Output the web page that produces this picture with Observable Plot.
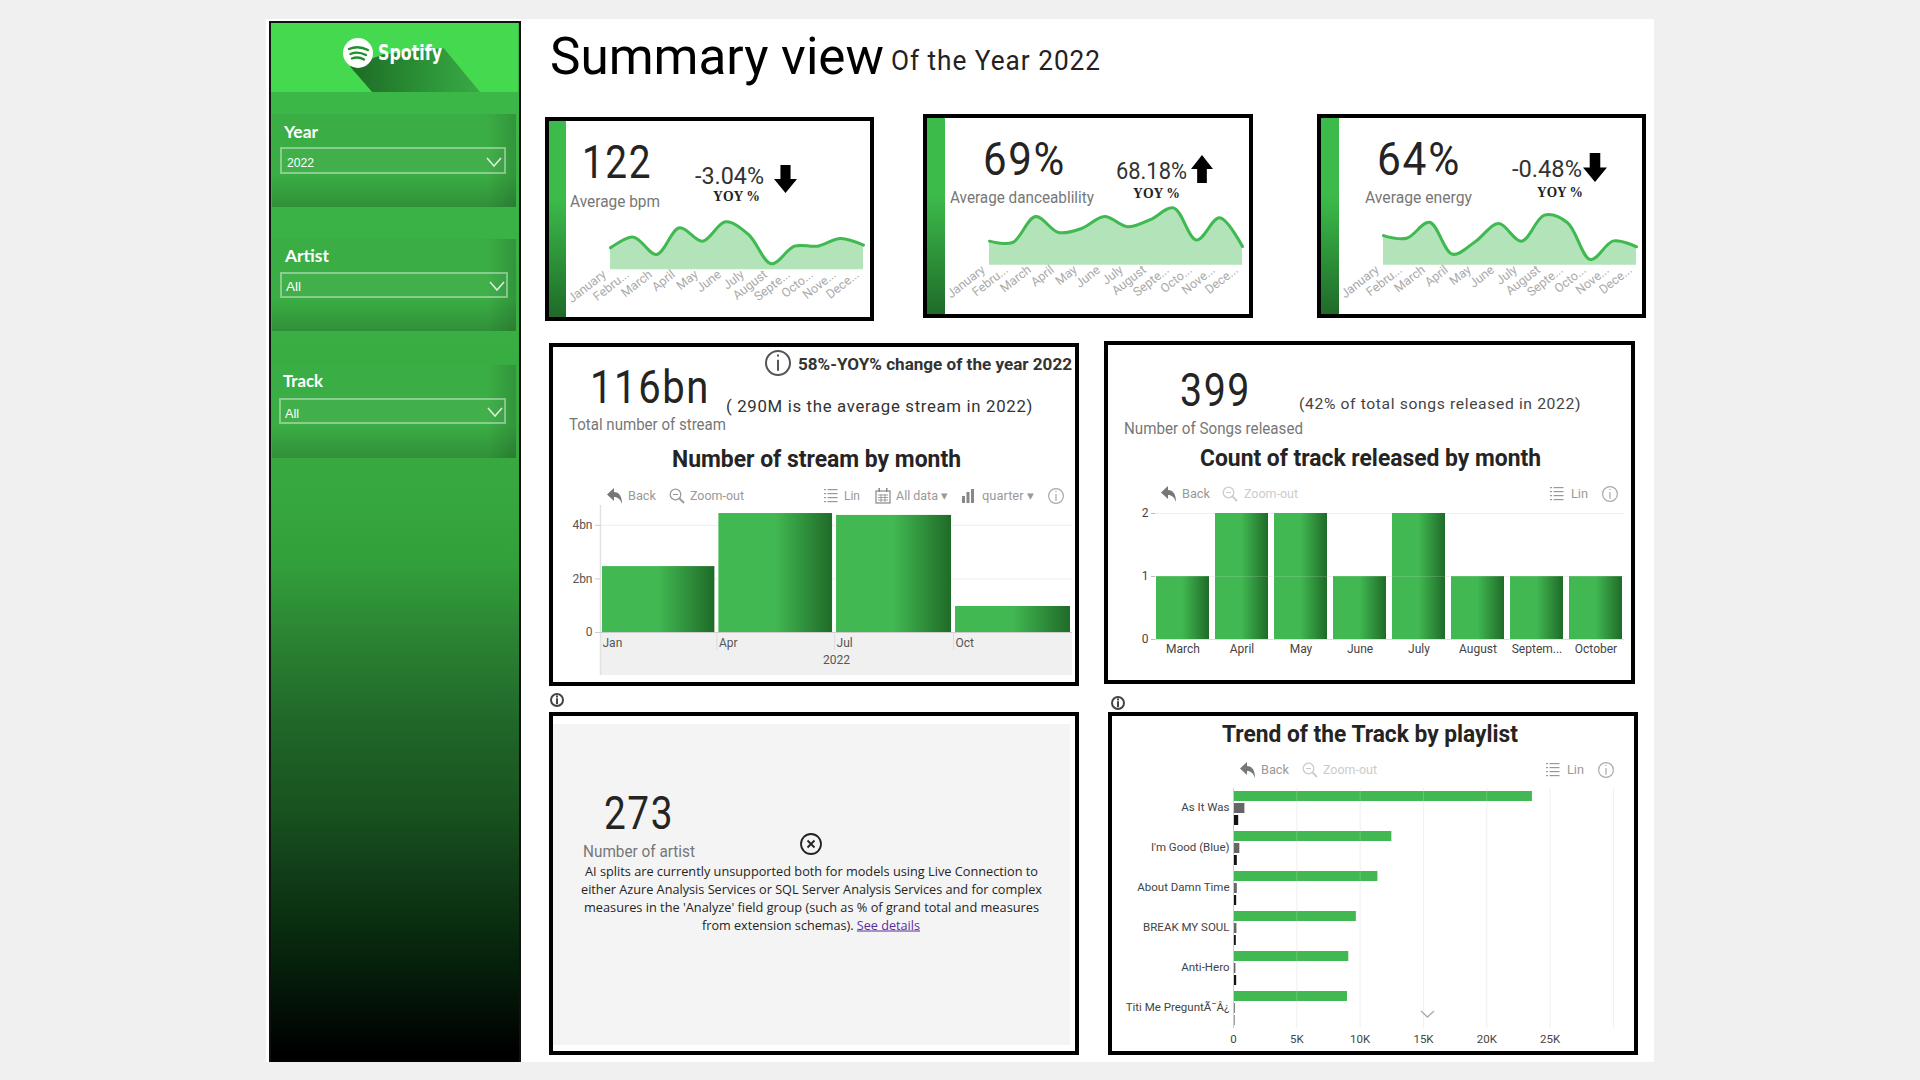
<!DOCTYPE html>
<html><head><meta charset="utf-8">
<script src="https://cdn.jsdelivr.net/npm/d3@7"></script>
<script src="https://cdn.jsdelivr.net/npm/@observablehq/plot@0.6"></script>
<style>
html,body{margin:0;padding:0;background:#f0f0f0;overflow:hidden}
#root{position:relative;width:1920px;height:1080px;overflow:hidden;font-family:Roboto,sans-serif}
#root>*{position:absolute}
.card{box-sizing:border-box;border:4px solid #000;background:#fff}
.t{white-space:nowrap;line-height:1;transform-origin:left center}
svg{font-family:Roboto,sans-serif}
</style></head><body><div id="root"></div>
<script>
// ---------- data ----------
const sparkMonths = ["January","Febru...","March","April","May","June","July","August","Septe...","Octo...","Nove...","Dece..."];
const bpmByMonth = [116.5,124.5,111.5,131.5,121.5,136,126.5,104.5,117.75,117.75,123.5,118.5];
const danceByMonth = [64,63.5,73.25,67.25,68.75,73.25,69.4,72.1,76.5,64.4,72.75,62];
const energyByMonth = [64.6,63.6,69.6,57.6,62.4,69.1,62.5,72.25,69.4,55.6,62.6,60.4];

const quarterStarts = ["2022-01-01","2022-04-01","2022-07-01","2022-10-01"];
const quarterEnds = ["2022-04-01","2022-07-01","2022-10-01","2023-01-01"];
const streamsByQuarter = [2.46e9,4.44e9,4.37e9,0.97e9];

const trackMonths = ["March","April","May","June","July","August","Septem...","October"];
const trackCounts = [1,2,2,1,2,1,1,1];

const playlistTracks = ["As It Was","I'm Good (Blue)","About Damn Time","BREAK MY SOUL","Anti-Hero","Titi Me PreguntÃ¯Â¿"];
const playlistSeries = ["Spotify","Apple","Deezer"];
const spotifyPlaylists = [23600,12500,11400,9700,9100,9000];
const applePlaylists = [900,500,300,270,190,140];
const deezerPlaylists = [410,300,250,220,250,110];

// ---------- helpers ----------
const root = document.getElementById("root");
function box(x1,y1,x2,y2,css="",cls=""){
  const d=document.createElement("div");
  d.className=cls;
  d.style.cssText=`left:${x1}px;top:${y1}px;width:${x2-x1}px;height:${y2-y1}px;${css}`;
  root.appendChild(d);return d;
}
function T(s,x1,x2,yc,size,css=""){
  const d=document.createElement("div");
  d.className="t";
  d.style.cssText=`left:${x1}px;top:${yc}px;font-size:${size}px;${css}`;
  d.innerHTML=s;
  root.appendChild(d);
  const k=(x2-x1)/d.getBoundingClientRect().width;
  d.style.transform=`translateY(-50%) scaleX(${k})`;
  return d;
}
function S(cx,cy,w,h,inner,css=""){
  const d=document.createElement("div");
  d.style.cssText=`left:${cx-w/2}px;top:${cy-h/2}px;width:${w}px;height:${h}px;${css}`;
  d.innerHTML=`<svg width="${w}" height="${h}" viewBox="0 0 ${w} ${h}" style="display:block;overflow:visible">${inner}</svg>`;
  root.appendChild(d);return d;
}
function info(cx,cy,r,c,sw=1.5){
  S(cx,cy,2*r,2*r,`<circle cx="${r}" cy="${r}" r="${r-sw/2}" fill="none" stroke="${c}" stroke-width="${sw}"/>
   <rect x="${r-sw/2}" y="${r*0.75}" width="${sw}" height="${r*0.85}" fill="${c}"/><rect x="${r-sw/2}" y="${r*0.35}" width="${sw}" height="${sw}" fill="${c}"/>`);
}
function chevron(cx,cy,c,w=14,h=8,sw=1.6){
  S(cx,cy,w,h,`<polyline points="0,0 ${w/2},${h} ${w},0" fill="none" stroke="${c}" stroke-width="${sw}"/>`);
}
function arrow(x1,y1,x2,y2,up){
  const p=up?"50% 0,100% 50%,72% 50%,72% 100%,28% 100%,28% 50%,0 50%":"50% 100%,0 50%,28% 50%,28% 0,72% 0,72% 50%,100% 50%";
  box(x1,y1,x2,y2,`background:#000;clip-path:polygon(${p})`);
}
const I = {
  back:c=>`<path d="M0 6.5 L7 0 V4 C12 4 15 8 15 16 C13 11 11 9 7 9 V13 Z" fill="${c}"/>`,
  glass:c=>`<circle cx="6.5" cy="6.5" r="5.3" fill="none" stroke="${c}" stroke-width="1.3"/><line x1="10.5" y1="10.5" x2="15" y2="15" stroke="${c}" stroke-width="1.8"/><line x1="4" y1="6.5" x2="9" y2="6.5" stroke="${c}"/>`,
  list:c=>[1,5,9,13].map(y=>`<rect x="0" y="${y}" width="2" height="1.2" fill="${c}"/><rect x="3.5" y="${y}" width="10" height="1.2" fill="${c}"/>`).join(""),
  cal:c=>`<rect x="1" y="3" width="14" height="12" fill="none" stroke="${c}" stroke-width="1.2"/><rect x="3.5" y="0" width="1.5" height="4" fill="${c}"/><rect x="11" y="0" width="1.5" height="4" fill="${c}"/><path d="M3 7H13M3 9.5H13M3 12H13M6 6V14M10 6V14" stroke="${c}" stroke-width=".8"/>`,
  bars:c=>`<rect x="0" y="8" width="3" height="7" fill="${c}"/><rect x="4.5" y="4" width="3" height="11" fill="${c}"/><rect x="9" y="1" width="3" height="14" fill="${c}"/>`
};
function ico(name,cx,cy,c="#888"){S(cx,cy,16,16,I[name](c));}
function tool(s,x1,x2,yc,c="#999"){T(s,x1,x2,yc,12.5,`color:${c}`);}
function place(plot,x,y){
  plot.style.position="absolute";plot.style.left=x+"px";plot.style.top=y+"px";plot.style.background="transparent";
  root.appendChild(plot);
}
const BIG="color:#252423;letter-spacing:.04em";

// gradient defs shared by all bars
S(0,0,0,0,`<defs>
<linearGradient id="barGrad" x1="0" x2="1" y1="0" y2="0"><stop offset="0" stop-color="#41b851"/><stop offset=".5" stop-color="#41b851"/><stop offset="1" stop-color="#1f6b28"/></linearGradient>
</defs>`);

// ---------- page ----------
box(266,19,1654,1062,"background:#fff");
// sidebar
box(269,21,521,1062,"box-sizing:border-box;border:2px solid #111;border-bottom:none;background:linear-gradient(#3cba4a 0%,#39ae43 30%,#37a83f 44%,#32a03a 52%,#2a8032 60%,#1f6629 67.7%,#19531f 75.5%,#0e3815 83.4%,#051f0a 91%,#000 99%)");
box(271,23,518,92,"background:#45d94f");
box(350,48,480,92,"background:linear-gradient(90deg,#1d6b25,#2f9a3b 70%,#3aa847);clip-path:polygon(0 42%,26% 14%,72% 0,100% 100%,17% 100%)");
S(358,53,30,30,`<circle cx="15" cy="15" r="15" fill="#fff"/><path d="M6 11 C12 8.5 19 9 25 12 M7.5 16 C12 14 18 14.5 23 17 M9 20.5 C13 19 17.5 19.5 21 21.5" fill="none" stroke="#1f8f2c" stroke-width="2.4" stroke-linecap="round"/>`);
T("Spotify",378,442,53,21,"color:#fff;font-weight:700;font-family:'DejaVu Sans'");
function slicer(y1,y2,label,lx,lx2,ly,dx1,dx2,dy1,dy2,val,vx,vx2,vy,cx,cy){
  box(272,y1,516,y2,"background:linear-gradient(rgba(0,0,0,0) 65%,rgba(0,0,0,.17) 100%),linear-gradient(90deg,rgba(0,0,0,0) 88%,rgba(0,0,0,.14) 100%),#3aad44");
  T(label,lx,lx2,ly,17,"color:#fff;font-family:Lato;font-weight:700");
  box(dx1,dy1,dx2,dy2,"box-sizing:border-box;border:2px solid rgba(255,255,255,.38);background:rgba(255,255,255,.04)");
  T(val,vx,vx2,vy,12.5,"color:#fff;font-family:'Liberation Sans'");
  chevron(cx,cy,"#d8f0da");
}
slicer(114,207,"Year",284,318,131,280,506,147,174,"2022",287,314,163,494,162);
slicer(239,331,"Artist",285,329,255,280,508,272,298,"All",286,301,287,497,286);
slicer(365,458,"Track",283,323,380,279,506,398,424,"All",285,299,414,495,412);

// header
T("Summary view",550,884,57,52,"color:#000");
T("Of the Year 2022",891,1101,61,27,"color:#222;letter-spacing:1px");

// KPI cards
function kpi(x1,y1,x2,y2,barR,big,bx1,bx2,by,lab,lx1,lx2,ly,yoy,yx1,yx2,yy,ox1,ox2,oy,ax1,ax2,ay1,ay2,up,vals,dom,baseY,px1,px2,pxPerUnit){
  box(x1,y1,x2,y2,"","card");
  box(x1+4,y1+4,barR,y2-4,"background:linear-gradient(#3cba4a,#3cba4a 40%,#1f6b28)");
  T(big,bx1,bx2,by,47,BIG);
  T(lab,lx1,lx2,ly,16,"color:#777");
  T(yoy,yx1,yx2,yy,23,"color:#333");
  T("YOY %",ox1,ox2,oy,14,"color:#222;font-family:'Liberation Serif';font-weight:700");
  arrow(ax1,ay1,ax2,ay2,up);
  const rows=sparkMonths.map((m,i)=>({m,v:vals[i]}));
  const mb=51, rangePx=(dom[1]-dom[0])*pxPerUnit, mt=3, H=mt+rangePx+mb;
  const p=Plot.plot({
    width:px2-px1+65,height:H,marginLeft:60,marginRight:5,marginTop:mt,marginBottom:mb,
    style:{fontSize:"12.5px",overflow:"visible"},
    x:{type:"point",domain:sparkMonths,padding:0,axis:null},
    y:{domain:dom,axis:null},
    marks:[
      Plot.areaY(rows,{x:"m",y1:dom[0],y2:"v",curve:"catmull-rom",fill:"#3fb950",fillOpacity:.4}),
      Plot.lineY(rows,{x:"m",y:"v",curve:"catmull-rom",stroke:"#3fb950",strokeWidth:3}),
      Plot.axisX({domain:sparkMonths,tickRotate:-38,tickSize:0,tickPadding:3,dx:-6,color:"#aaa",label:null})
    ]});
  place(p,px1-60,baseY-(H-mb));
}
kpi(545,117,874,321,566,"122",582,652,161,"Average bpm",570,660,202,"-3.04%",695,764,176,713,760,197,774,797,165,193,false,bpmByMonth,[100,140],269,609,864,1.333);
kpi(923,114,1253,318,945,"69%",983,1066,158,"Average danceablility",950,1094,198,"68.18%",1116,1187,171,1133,1180,194,1191,1213,155,183,true,danceByMonth,[55,80],265,987,1244,2.667);
kpi(1317,114,1646,318,1339,"64%",1377,1461,158,"Average energy",1365,1472,198,"-0.48%",1512,1582,169,1537,1583,193,1583,1607,153,182,false,energyByMonth,[53.5,78.5],265,1381,1637,2.667);

// streams card
box(549,343,1079,686,"","card");
T("116bn",590,710,386,47,BIG);
T("Total number of stream",569,726,425,16,"color:#777");
info(778,363,13,"#555",2);
T("58%-YOY% change of the year 2022",798,1072,365,16,"color:#333;font-weight:700");
T("( 290M is the average stream in 2022)",726,1033,406,17,"color:#333;letter-spacing:.04em");
T("Number of stream by month",672,961,459,23,"color:#252423;font-weight:700");
ico("back",615,496,"#777");tool("Back",628,656,496);
ico("glass",677,496,"#999");tool("Zoom-out",690,744,496);
ico("list",832,496,"#999");tool("Lin",844,860,496);
ico("cal",883,496,"#888");tool("All data ▾",896,948,496);
ico("bars",970,496,"#888");tool("quarter ▾",982,1034,496);
info(1056,496,8,"#aaa",1.2);
box(600,632,1072,675,"background:#f0f0f0");
const qDates=quarterStarts.map(d=>new Date(d));
const qRows=quarterStarts.map((d,i)=>({start:new Date(d),end:new Date(quarterEnds[i]),v:streamsByQuarter[i]}));
place(Plot.plot({
  width:515,height:180,marginLeft:40,marginRight:3,marginTop:5,marginBottom:48,
  style:{fontSize:"12px",overflow:"visible"},
  x:{type:"utc",domain:[new Date("2022-01-01"),new Date("2023-01-01")],axis:null},
  y:{domain:[0,4.74e9],axis:null},
  marks:[
    Plot.gridY([2e9,4e9],{stroke:"#eee",strokeOpacity:1}),
    Plot.ruleX([new Date("2022-01-01")],{stroke:"#e2e2e2",insetBottom:-43,strokeWidth:1.5}),
    Plot.rectY(qRows,{x1:"start",x2:"end",y:"v",fill:"url(#barGrad)",insetLeft:2,insetRight:2}),
    Plot.ruleY([0],{stroke:"#ccc"}),
    Plot.ruleX(qDates.slice(1),{y1:0,y2:0,insetBottom:-18,stroke:"#ddd"}),
    Plot.axisY({ticks:[0,2e9,4e9],tickFormat:d=>d?d/1e9+"bn":"0",tickSize:5,tickPadding:3,stroke:"#ccc",color:"#555",label:null}),
    Plot.text(qDates,{x:d=>d,text:d3.utcFormat("%b"),frameAnchor:"bottom",textAnchor:"start",dy:14,dx:2,fill:"#555"}),
    Plot.text(["2022"],{text:d=>d,frameAnchor:"bottom",dy:31,fill:"#555"})
  ]}),560,500);

// tracks card
box(1104,341,1635,684,"","card");
T("399",1180,1251,389,47,BIG);
T("Number of Songs released",1124,1303,429,16,"color:#777");
T("(42% of total songs released in 2022)",1299,1581,404,15,"color:#444;letter-spacing:.04em");
T("Count of track released by month",1200,1541,458,23,"color:#252423;font-weight:700");
ico("back",1169,494,"#777");tool("Back",1182,1210,494);
ico("glass",1230,494,"#ccc");tool("Zoom-out",1244,1298,494,"#ccc");
ico("list",1558,494,"#999");tool("Lin",1571,1588,494);
info(1610,494,8,"#aaa",1.2);
place(Plot.plot({
  width:525,height:165,marginLeft:50,marginRight:6,marginTop:8,marginBottom:31,
  style:{fontSize:"12px",overflow:"visible"},
  x:{domain:trackMonths,paddingInner:.1,paddingOuter:.02,axis:null},
  y:{domain:[0,2],axis:null},
  marks:[
    Plot.gridY([1,2],{stroke:"#eee",strokeOpacity:1}),
    Plot.barY(trackMonths.map((m,i)=>({m,v:trackCounts[i]})),{x:"m",y:"v",fill:"url(#barGrad)"}),
    Plot.gridY([1],{stroke:"#fff",strokeOpacity:.15}),
    Plot.ruleY([0],{stroke:"#ddd"}),
    Plot.axisY({ticks:[0,1,2],tickFormat:d3.format("d"),tickSize:4,tickPadding:3,stroke:"#bbb",color:"#444",label:null}),
    Plot.axisX({domain:trackMonths,tickSize:0,tickPadding:5,color:"#444",label:null})
  ]}),1105,505);

// artist card
info(557,700,7,"#444",2);
box(549,712,1079,1055,"","card");
box(553,724,1070,1045,"background:#f4f4f4");
T("273",604,674,812,47,BIG);
T("Number of artist",583,695,852,16,"color:#777");
S(811,844,22,22,`<circle cx="11" cy="11" r="10" fill="none" stroke="#222" stroke-width="1.8"/><path d="M7.5 7.5L14.5 14.5M14.5 7.5L7.5 14.5" stroke="#222" stroke-width="1.8"/>`);
const F="color:#252423;font-family:'Open Sans'";
T("AI splits are currently unsupported both for models using Live Connection to",585,1038,871,13,F);
T("either Azure Analysis Services or SQL Server Analysis Services and for complex",581,1042,889,13,F);
T("measures in the 'Analyze' field group (such as % of grand total and measures",584,1039,907,13,F);
T("from extension schemas). <span style='color:#5b2d9c;text-decoration:underline'>See details</span>",702,920,925,13,F);

// playlist card
info(1118,703,7,"#444",2);
box(1108,712,1638,1055,"","card");
T("Trend of the Track by playlist",1222,1518,734,23,"color:#252423;font-weight:700");
ico("back",1248,770,"#777");tool("Back",1261,1289,770);
ico("glass",1310,770,"#ccc");tool("Zoom-out",1323,1377,770,"#ccc");
ico("list",1554,770,"#999");tool("Lin",1567,1584,770);
info(1606,770,8,"#aaa",1.2);
const seriesVals=[spotifyPlaylists,applePlaylists,deezerPlaylists];
const plRows=playlistTracks.flatMap((t,i)=>playlistSeries.map((s,j)=>({t,s,v:seriesVals[j][i]})));
const xGrid=[0,5000,10000,15000,20000,25000,30000];
place(Plot.plot({
  width:515,height:275,marginLeft:125,marginRight:10,marginTop:8,marginBottom:27,
  style:{fontSize:"11.5px",overflow:"visible"},
  x:{domain:[0,30000],axis:null},
  y:{domain:playlistSeries,padding:.2,axis:null},
  fy:{domain:playlistTracks,padding:0,axis:null},
  color:{domain:playlistSeries,range:["#41b851","#666666","#111111"]},
  marks:[
    Plot.ruleX(xGrid,{stroke:"#eee"}),
    Plot.barX(plRows,{x:"v",y:"s",fy:"t",fill:"s"}),
    Plot.ruleX(xGrid.slice(1),{stroke:"#fff",strokeOpacity:.2}),
    Plot.ruleX([0],{stroke:"#ccc"}),
    Plot.axisFy({anchor:"left",tickSize:0,tickPadding:4,dy:-1,color:"#444",label:null}),
    Plot.axisX({ticks:xGrid.slice(0,-1),tickFormat:d=>d?d/1000+"K":"0",tickSize:0,tickPadding:6,color:"#444",label:null})
  ]}),1108,780);
chevron(1427,1014,"#aaa",13,6,1.3);
</script></body></html>
